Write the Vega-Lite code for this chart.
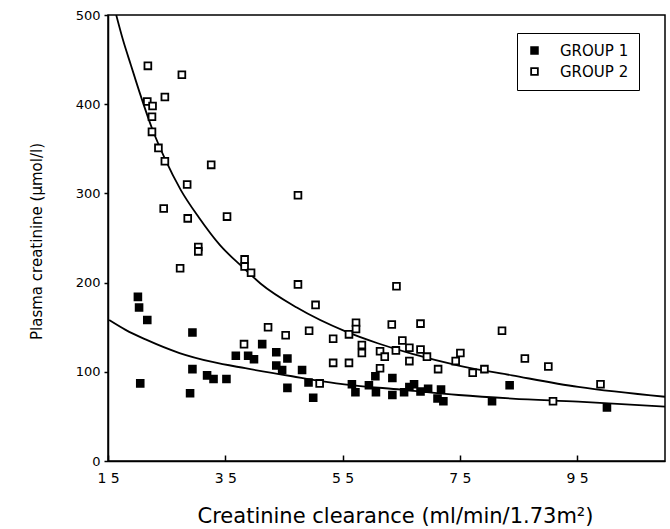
{
  "$schema": "https://vega.github.io/schema/vega-lite/v6.json",
  "width": 557,
  "height": 446,
  "autosize": {"type": "none"},
  "padding": {"left": 108, "top": 15, "right": 5, "bottom": 68},
  "background": "white",
  "config": {
    "view": {"stroke": "black", "strokeWidth": 1.5},
    "axis": {
      "domainColor": "black", "domainWidth": 1.5,
      "tickColor": "black", "tickWidth": 1.5,
      "labelColor": "black", "titleColor": "black",
      "grid": false,
      "labelFont": "DejaVu Sans", "labelFontSize": 13,
      "titleFont": "DejaVu Sans", "titleFontWeight": "normal",
      "labelFlush": false
    },
    "legend": {"strokeColor": "black", "padding": 10}
  },
  "datasets": {
    "points": [
      {"clearance": 20.1, "creatinine": 184, "group": "GROUP 1"},
      {"clearance": 20.3, "creatinine": 172, "group": "GROUP 1"},
      {"clearance": 21.7, "creatinine": 158, "group": "GROUP 1"},
      {"clearance": 29.4, "creatinine": 144, "group": "GROUP 1"},
      {"clearance": 20.5, "creatinine": 87, "group": "GROUP 1"},
      {"clearance": 29.4, "creatinine": 103, "group": "GROUP 1"},
      {"clearance": 29.0, "creatinine": 76, "group": "GROUP 1"},
      {"clearance": 31.9, "creatinine": 96, "group": "GROUP 1"},
      {"clearance": 33.0, "creatinine": 92, "group": "GROUP 1"},
      {"clearance": 35.2, "creatinine": 92, "group": "GROUP 1"},
      {"clearance": 36.8, "creatinine": 118, "group": "GROUP 1"},
      {"clearance": 38.9, "creatinine": 118, "group": "GROUP 1"},
      {"clearance": 39.9, "creatinine": 114, "group": "GROUP 1"},
      {"clearance": 41.3, "creatinine": 131, "group": "GROUP 1"},
      {"clearance": 43.7, "creatinine": 122, "group": "GROUP 1"},
      {"clearance": 45.6, "creatinine": 115, "group": "GROUP 1"},
      {"clearance": 43.7, "creatinine": 107, "group": "GROUP 1"},
      {"clearance": 44.7, "creatinine": 102, "group": "GROUP 1"},
      {"clearance": 45.6, "creatinine": 82, "group": "GROUP 1"},
      {"clearance": 48.1, "creatinine": 102, "group": "GROUP 1"},
      {"clearance": 49.2, "creatinine": 88, "group": "GROUP 1"},
      {"clearance": 50.0, "creatinine": 71, "group": "GROUP 1"},
      {"clearance": 56.6, "creatinine": 86, "group": "GROUP 1"},
      {"clearance": 57.2, "creatinine": 77, "group": "GROUP 1"},
      {"clearance": 59.5, "creatinine": 85, "group": "GROUP 1"},
      {"clearance": 60.6, "creatinine": 95, "group": "GROUP 1"},
      {"clearance": 60.7, "creatinine": 77, "group": "GROUP 1"},
      {"clearance": 63.5, "creatinine": 93, "group": "GROUP 1"},
      {"clearance": 63.5, "creatinine": 74, "group": "GROUP 1"},
      {"clearance": 65.5, "creatinine": 77, "group": "GROUP 1"},
      {"clearance": 66.4, "creatinine": 83, "group": "GROUP 1"},
      {"clearance": 67.2, "creatinine": 86, "group": "GROUP 1"},
      {"clearance": 68.3, "creatinine": 78, "group": "GROUP 1"},
      {"clearance": 69.6, "creatinine": 81, "group": "GROUP 1"},
      {"clearance": 71.2, "creatinine": 70, "group": "GROUP 1"},
      {"clearance": 71.8, "creatinine": 80, "group": "GROUP 1"},
      {"clearance": 72.2, "creatinine": 67, "group": "GROUP 1"},
      {"clearance": 80.5, "creatinine": 67, "group": "GROUP 1"},
      {"clearance": 83.5, "creatinine": 85, "group": "GROUP 1"},
      {"clearance": 100.1, "creatinine": 60, "group": "GROUP 1"},
      {"clearance": 21.8, "creatinine": 443, "group": "GROUP 2"},
      {"clearance": 27.6, "creatinine": 433, "group": "GROUP 2"},
      {"clearance": 24.7, "creatinine": 408, "group": "GROUP 2"},
      {"clearance": 21.7, "creatinine": 403, "group": "GROUP 2"},
      {"clearance": 22.6, "creatinine": 398, "group": "GROUP 2"},
      {"clearance": 22.5, "creatinine": 386, "group": "GROUP 2"},
      {"clearance": 22.5, "creatinine": 369, "group": "GROUP 2"},
      {"clearance": 23.6, "creatinine": 351, "group": "GROUP 2"},
      {"clearance": 24.7, "creatinine": 336, "group": "GROUP 2"},
      {"clearance": 32.6, "creatinine": 332, "group": "GROUP 2"},
      {"clearance": 28.5, "creatinine": 310, "group": "GROUP 2"},
      {"clearance": 24.5, "creatinine": 283, "group": "GROUP 2"},
      {"clearance": 28.6, "creatinine": 272, "group": "GROUP 2"},
      {"clearance": 35.3, "creatinine": 274, "group": "GROUP 2"},
      {"clearance": 30.4, "creatinine": 240, "group": "GROUP 2"},
      {"clearance": 30.4, "creatinine": 235, "group": "GROUP 2"},
      {"clearance": 27.3, "creatinine": 216, "group": "GROUP 2"},
      {"clearance": 38.3, "creatinine": 226, "group": "GROUP 2"},
      {"clearance": 38.3, "creatinine": 218, "group": "GROUP 2"},
      {"clearance": 39.4, "creatinine": 211, "group": "GROUP 2"},
      {"clearance": 42.3, "creatinine": 150, "group": "GROUP 2"},
      {"clearance": 45.3, "creatinine": 141, "group": "GROUP 2"},
      {"clearance": 38.2, "creatinine": 131, "group": "GROUP 2"},
      {"clearance": 47.4, "creatinine": 298, "group": "GROUP 2"},
      {"clearance": 47.4, "creatinine": 198, "group": "GROUP 2"},
      {"clearance": 50.4, "creatinine": 175, "group": "GROUP 2"},
      {"clearance": 49.3, "creatinine": 146, "group": "GROUP 2"},
      {"clearance": 53.4, "creatinine": 137, "group": "GROUP 2"},
      {"clearance": 53.4, "creatinine": 110, "group": "GROUP 2"},
      {"clearance": 56.1, "creatinine": 110, "group": "GROUP 2"},
      {"clearance": 56.1, "creatinine": 142, "group": "GROUP 2"},
      {"clearance": 57.3, "creatinine": 155, "group": "GROUP 2"},
      {"clearance": 57.3, "creatinine": 148, "group": "GROUP 2"},
      {"clearance": 58.3, "creatinine": 130, "group": "GROUP 2"},
      {"clearance": 58.3, "creatinine": 121, "group": "GROUP 2"},
      {"clearance": 51.1, "creatinine": 87, "group": "GROUP 2"},
      {"clearance": 64.2, "creatinine": 196, "group": "GROUP 2"},
      {"clearance": 63.4, "creatinine": 153, "group": "GROUP 2"},
      {"clearance": 68.3, "creatinine": 154, "group": "GROUP 2"},
      {"clearance": 65.2, "creatinine": 135, "group": "GROUP 2"},
      {"clearance": 61.4, "creatinine": 123, "group": "GROUP 2"},
      {"clearance": 62.2, "creatinine": 117, "group": "GROUP 2"},
      {"clearance": 64.1, "creatinine": 124, "group": "GROUP 2"},
      {"clearance": 66.4, "creatinine": 127, "group": "GROUP 2"},
      {"clearance": 68.3, "creatinine": 125, "group": "GROUP 2"},
      {"clearance": 66.4, "creatinine": 112, "group": "GROUP 2"},
      {"clearance": 61.4, "creatinine": 104, "group": "GROUP 2"},
      {"clearance": 69.4, "creatinine": 117, "group": "GROUP 2"},
      {"clearance": 82.2, "creatinine": 146, "group": "GROUP 2"},
      {"clearance": 75.1, "creatinine": 121, "group": "GROUP 2"},
      {"clearance": 74.3, "creatinine": 112, "group": "GROUP 2"},
      {"clearance": 71.3, "creatinine": 103, "group": "GROUP 2"},
      {"clearance": 77.2, "creatinine": 99, "group": "GROUP 2"},
      {"clearance": 79.2, "creatinine": 103, "group": "GROUP 2"},
      {"clearance": 86.1, "creatinine": 115, "group": "GROUP 2"},
      {"clearance": 90.1, "creatinine": 106, "group": "GROUP 2"},
      {"clearance": 99.0, "creatinine": 86, "group": "GROUP 2"},
      {"clearance": 90.9, "creatinine": 67, "group": "GROUP 2"}
    ],
    "curves": [
      {"clearance": 15.2, "creatinine": 158, "group": "GROUP 1"},
      {"clearance": 18.0, "creatinine": 147, "group": "GROUP 1"},
      {"clearance": 21.5, "creatinine": 136, "group": "GROUP 1"},
      {"clearance": 27.2, "creatinine": 121, "group": "GROUP 1"},
      {"clearance": 32.8, "creatinine": 111, "group": "GROUP 1"},
      {"clearance": 38.4, "creatinine": 104, "group": "GROUP 1"},
      {"clearance": 46.4, "creatinine": 95, "group": "GROUP 1"},
      {"clearance": 55.3, "creatinine": 86, "group": "GROUP 1"},
      {"clearance": 65.0, "creatinine": 80, "group": "GROUP 1"},
      {"clearance": 74.8, "creatinine": 74, "group": "GROUP 1"},
      {"clearance": 83.9, "creatinine": 70, "group": "GROUP 1"},
      {"clearance": 95.2, "creatinine": 66.5, "group": "GROUP 1"},
      {"clearance": 110.0, "creatinine": 61, "group": "GROUP 1"},
      {"clearance": 16.4, "creatinine": 500, "group": "GROUP 2"},
      {"clearance": 17.6, "creatinine": 471, "group": "GROUP 2"},
      {"clearance": 18.9, "creatinine": 444, "group": "GROUP 2"},
      {"clearance": 20.5, "creatinine": 411, "group": "GROUP 2"},
      {"clearance": 22.5, "creatinine": 373, "group": "GROUP 2"},
      {"clearance": 24.7, "creatinine": 339, "group": "GROUP 2"},
      {"clearance": 27.4, "creatinine": 304, "group": "GROUP 2"},
      {"clearance": 30.5, "creatinine": 273, "group": "GROUP 2"},
      {"clearance": 34.1, "creatinine": 242, "group": "GROUP 2"},
      {"clearance": 38.0, "creatinine": 217, "group": "GROUP 2"},
      {"clearance": 41.0, "creatinine": 199, "group": "GROUP 2"},
      {"clearance": 47.2, "creatinine": 172, "group": "GROUP 2"},
      {"clearance": 55.6, "creatinine": 145, "group": "GROUP 2"},
      {"clearance": 61.0, "creatinine": 132, "group": "GROUP 2"},
      {"clearance": 66.9, "creatinine": 120, "group": "GROUP 2"},
      {"clearance": 74.8, "creatinine": 107, "group": "GROUP 2"},
      {"clearance": 83.9, "creatinine": 96, "group": "GROUP 2"},
      {"clearance": 95.2, "creatinine": 83, "group": "GROUP 2"},
      {"clearance": 110.0, "creatinine": 72, "group": "GROUP 2"}
    ]
  },
  "layer": [
    {
      "data": {"name": "curves"},
      "mark": {"type": "line", "color": "black", "strokeWidth": 1.8, "interpolate": "monotone", "clip": true},
      "encoding": {
        "x": {
          "field": "clearance", "type": "quantitative",
          "scale": {"domain": [15, 110], "nice": false, "zero": false},
          "axis": {
            "values": [15, 35, 55, 75, 95],
            "tickSize": -6,
            "labelPadding": 16,
            "labelFontSize": 14,
            "labelExpr": "substring(datum.label,0,1) + ' ' + substring(datum.label,1)",
            "title": "Creatinine clearance (ml/min/1.73m²)",
            "titleFontSize": 21,
            "titleX": 287,
            "titleY": 61,
            "titleAlign": "center",
            "titleBaseline": "alphabetic"
          }
        },
        "y": {
          "field": "creatinine", "type": "quantitative",
          "scale": {"domain": [0, 500], "nice": false},
          "axis": {
            "values": [0, 100, 200, 300, 400, 500],
            "tickSize": 4,
            "labelPadding": 4,
            "title": "Plasma creatinine (μmol/l)",
            "titleFontSize": 15,
            "titleX": -72,
            "titleY": 226,
            "titleAngle": 270,
            "titleAlign": "center",
            "titleBaseline": "middle"
          }
        },
        "detail": {"field": "group", "type": "nominal"}
      }
    },
    {
      "data": {"name": "points"},
      "mark": {"type": "square", "size": 46, "stroke": "black", "strokeWidth": 1.8, "opacity": 1, "fillOpacity": 1},
      "encoding": {
        "x": {"field": "clearance", "type": "quantitative"},
        "y": {"field": "creatinine", "type": "quantitative"},
        "fill": {
          "field": "group", "type": "nominal",
          "scale": {"domain": ["GROUP 1", "GROUP 2"], "range": ["black", "white"]},
          "legend": {
            "title": null,
            "orient": "none",
            "legendX": 409,
            "legendY": 18,
            "strokeColor": "black",
            "fillColor": "white",
            "padding": 10,
            "symbolType": "square",
            "symbolSize": 45,
            "symbolStrokeColor": "black",
            "symbolStrokeWidth": 1.8,
            "symbolOpacity": 1,
            "labelFont": "DejaVu Sans",
            "labelFontSize": 15,
            "labelColor": "black",
            "labelOffset": 18,
            "rowPadding": 5
          }
        }
      }
    }
  ]
}
